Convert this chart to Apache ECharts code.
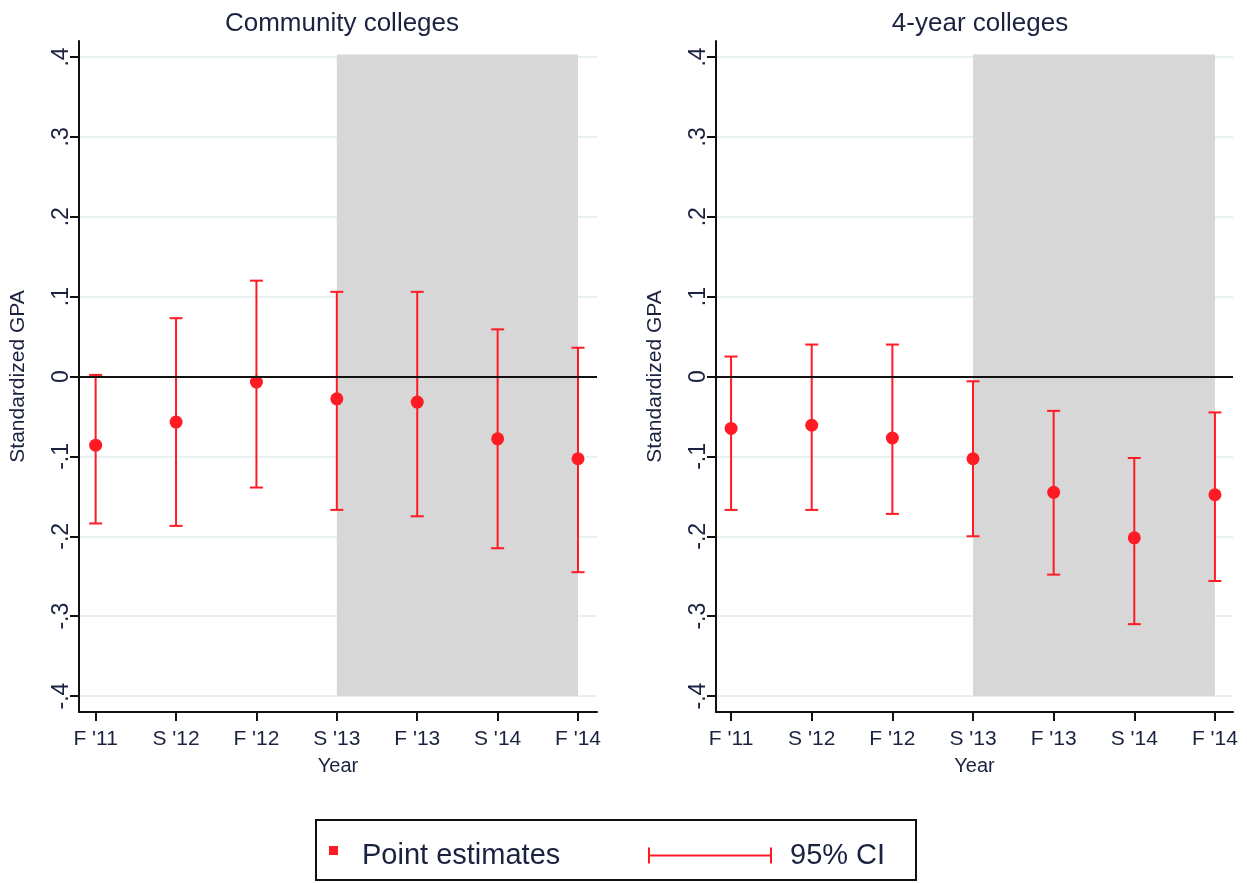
<!DOCTYPE html>
<html>
<head>
<meta charset="utf-8">
<script src="https://cdn.jsdelivr.net/npm/echarts@6/dist/echarts.min.js"></script>
<style>html,body{margin:0;padding:0;background:#fff}#c{width:1247px;height:883px}</style>
</head>
<body>
<div id="c"></div>
<script>
// ---- data ----
const categories = ["F '11", "S '12", "F '12", "S '13", "F '13", "S '14", "F '14"];
const panelTitles = ["Community colleges", "4-year colleges"];
const yTicks = [-0.4, -0.3, -0.2, -0.1, 0, 0.1, 0.2, 0.3, 0.4];
// Community colleges
const ccPoint = [-0.086, -0.057, -0.007, -0.028, -0.032, -0.078, -0.103];
const ccLow   = [-0.184, -0.187, -0.139, -0.167, -0.175, -0.215, -0.245];
const ccHigh  = [0.002, 0.073, 0.120, 0.106, 0.106, 0.059, 0.036];
// 4-year colleges
const fyPoint = [-0.065, -0.061, -0.077, -0.103, -0.145, -0.202, -0.148];
const fyLow   = [-0.167, -0.167, -0.172, -0.200, -0.248, -0.310, -0.256];
const fyHigh  = [0.025, 0.040, 0.040, -0.006, -0.043, -0.102, -0.045];
// post-period shading: from category index 3 (S '13) to 6 (F '14)
const shadeFrom = 3, shadeTo = 6;

const RED = '#ff1a24';
const TXT = '#1a2240';
const FONT = 'Liberation Sans, Arial, sans-serif';

const chart = echarts.init(document.getElementById('c'));

function yFmt(v) {
  const r = Math.round(v * 10);
  if (r === 0) return '0';
  return (r < 0 ? '-' : '') + '.' + Math.abs(r);
}

const xTickVals = categories.map((c, i) => i);

function makeX(gi, min, max) {
  return {
    gridIndex: gi, type: 'value', min: min, max: max,
    name: 'Year', nameLocation: 'middle', nameGap: 44,
    nameTextStyle: { color: TXT, fontSize: 20, fontFamily: FONT },
    axisLine: { show: true, onZero: false, lineStyle: { color: '#111', width: 2 } },
    axisTick: { show: true, length: 9, customValues: xTickVals, lineStyle: { color: '#111', width: 2 } },
    axisLabel: { customValues: xTickVals, margin: 17, color: TXT, fontSize: 21, fontFamily: FONT,
      formatter: v => categories[Math.round(v)] },
    splitLine: { show: false }
  };
}
function makeY(gi) {
  return {
    gridIndex: gi, type: 'value', min: -0.42, max: 0.42,
    name: 'Standardized GPA', nameLocation: 'middle', nameGap: 50, nameRotate: 90,
    nameTextStyle: { color: TXT, fontSize: 21, fontFamily: FONT },
    axisLine: { show: true, onZero: false, lineStyle: { color: '#111', width: 2 } },
    axisTick: { show: true, length: 9, customValues: yTicks, lineStyle: { color: '#111', width: 2 } },
    axisLabel: { customValues: yTicks, rotate: 90, margin: 6, color: TXT, fontSize: 23, fontFamily: FONT,
      formatter: yFmt },
    splitLine: { show: true, lineStyle: { color: '#e8f0f2', width: 2 } }
  };
}

function errSeries(gi, low, high) {
  return {
    type: 'custom', name: '95% CI', xAxisIndex: gi, yAxisIndex: gi, z: 3,
    data: categories.map((c, i) => [i, low[i], high[i]]),
    encode: { x: 0, y: [1, 2] },
    renderItem: function (params, api) {
      const x = api.value(0);
      const top = api.coord([x, api.value(2)]);
      const bot = api.coord([x, api.value(1)]);
      const hw = 6.5;
      const st = { stroke: RED, lineWidth: 2, fill: null };
      return {
        type: 'group', children: [
          { type: 'line', shape: { x1: top[0], y1: top[1], x2: bot[0], y2: bot[1] }, style: st },
          { type: 'line', shape: { x1: top[0] - hw, y1: top[1], x2: top[0] + hw, y2: top[1] }, style: st },
          { type: 'line', shape: { x1: bot[0] - hw, y1: bot[1], x2: bot[0] + hw, y2: bot[1] }, style: st }
        ]
      };
    }
  };
}
function ptSeries(gi, pts) {
  return {
    type: 'scatter', name: 'Point estimates', xAxisIndex: gi, yAxisIndex: gi, z: 4,
    symbol: 'circle', symbolSize: 13, itemStyle: { color: RED, opacity: 1 },
    data: categories.map((c, i) => [i, pts[i]]),
    markArea: {
      silent: true, z: 1,
      itemStyle: { color: '#d7d7d7' },
      data: [[{ xAxis: shadeFrom, yAxis: -0.4 }, { xAxis: shadeTo, yAxis: 0.403 }]]
    },
    markLine: {
      silent: true, symbol: ['none', 'none'], label: { show: false },
      lineStyle: { color: '#111', width: 2.2, type: 'solid' },
      data: [{ yAxis: 0 }]
    }
  };
}

const option = {
  backgroundColor: '#fff',
  animation: false,
  textStyle: { fontFamily: FONT },
  title: [
    { text: panelTitles[0], left: 337, top: 6, textAlign: 'center',
      textStyle: { color: TXT, fontSize: 26, fontWeight: 'normal', fontFamily: FONT } },
    { text: panelTitles[1], left: 975, top: 6, textAlign: 'center',
      textStyle: { color: TXT, fontSize: 26, fontWeight: 'normal', fontFamily: FONT } }
  ],
  grid: [
    { left: 79, right: 650, top: 41, bottom: 171, containLabel: false },
    { left: 716, right: 14, top: 41, bottom: 171, containLabel: false }
  ],
  xAxis: [makeX(0, -0.207, 6.236), makeX(1, -0.187, 6.224)],
  yAxis: [makeY(0), makeY(1)],
  legend: [
    {
      left: 324, top: 836, orient: 'horizontal',
      data: [{ name: 'Point estimates', icon: 'path://M0,0h9v9h-9z M27.9,18.9h0.1v0.1h-0.1z' }],
      itemWidth: 28, itemHeight: 19, itemGap: 0,
      textStyle: { color: TXT, fontSize: 29, fontFamily: FONT, padding: [2, 0, 0, 0] }
    },
    {
      left: 643, top: 836, orient: 'horizontal',
      data: [{ name: '95% CI', icon: 'path://M0,0h2v16h-2z M0,7h124v2h-124z M122,0h2v16h-2z' }],
      itemWidth: 124, itemHeight: 16, itemGap: 0,
      itemStyle: { color: RED },
      textStyle: { color: TXT, fontSize: 29, fontFamily: FONT, padding: [2, 0, 0, 13] }
    }
  ],
  graphic: [
    { type: 'rect', shape: { x: 316, y: 820, width: 600, height: 60 },
      style: { fill: null, stroke: '#111', lineWidth: 2 }, z: -1 }
  ],
  series: [
    errSeries(0, ccLow, ccHigh), ptSeries(0, ccPoint),
    errSeries(1, fyLow, fyHigh), ptSeries(1, fyPoint)
  ]
};
chart.setOption(option);
</script>
</body>
</html>
